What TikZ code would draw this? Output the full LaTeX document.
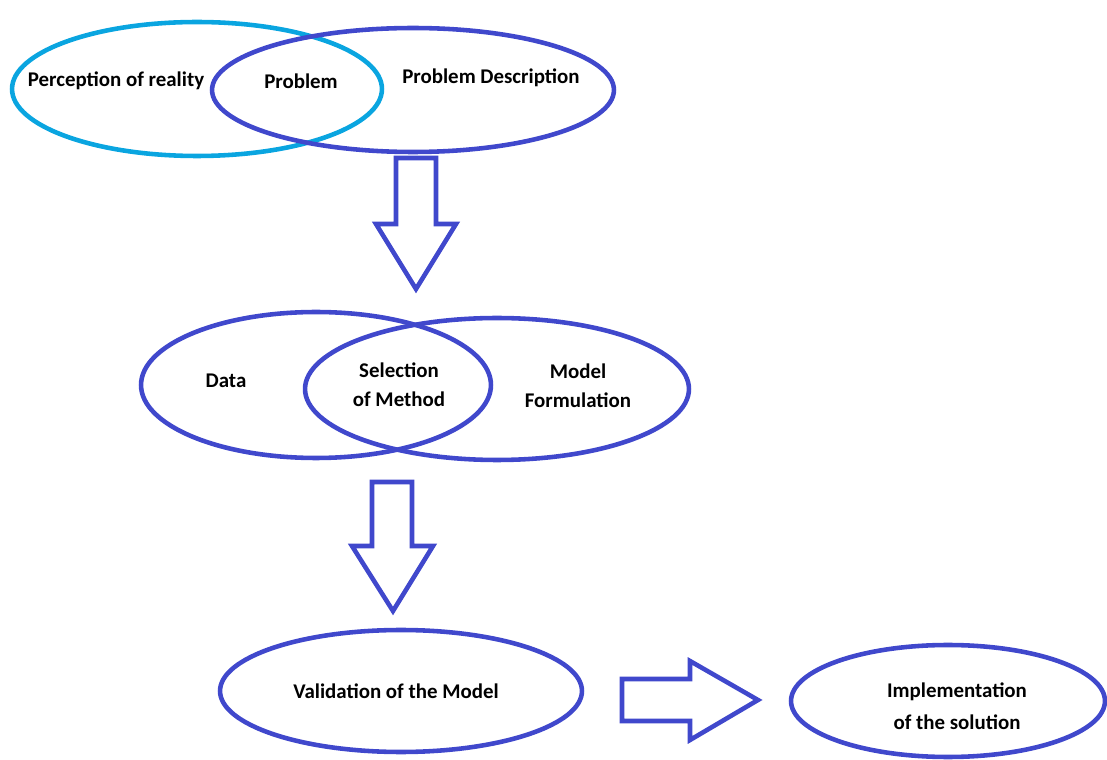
\documentclass[tikz,border=0pt]{standalone}
\usepackage{fontspec}
\setmainfont{Carlito}
\usetikzlibrary{shapes.geometric}
\definecolor{venblue}{RGB}{64,72,204}
\definecolor{vencyan}{RGB}{10,165,224}
\tikzset{
  oval/.style={ellipse, draw=venblue, line width=2.6pt, inner sep=0pt},
  lbl/.style={font=\bfseries\fontsize{11.9}{14.5}\selectfont, text=black, align=center, inner sep=0pt},
  blockarrow/.style={draw=venblue, line width=2.6pt, line join=miter, fill=white},
}
\begin{document}
\begin{tikzpicture}[x=0.02cm, y=-0.02cm]
\useasboundingbox (0,0) rectangle (1107,760);

% top pair of overlapping ovals
\node[oval, draw=vencyan, minimum width=7.4cm, minimum height=2.68cm] (reality) at (197,89) {};
\node[oval, minimum width=8.04cm, minimum height=2.48cm] (descr) at (413,90) {};
\node[lbl] (tReality) at (116,81) {Perception of reality};
\node[lbl] (tProblem) at (301,81) {Problem};
\node[lbl] (tDescr) at (491,78) {Problem Description};

% first downward block arrow
\draw[blockarrow] (396,158) -- (436,158) -- (436,224) -- (456,224) -- (416,289)
  -- (376,224) -- (396,224) -- cycle;

% middle pair of overlapping ovals
\node[oval, minimum width=7.0cm, minimum height=2.92cm] (data) at (316,385) {};
\node[oval, minimum width=7.68cm, minimum height=2.84cm] (model) at (497,389) {};
\node[lbl] (tData) at (226,381) {Data};
\node[lbl] (tSel) at (399,385) {Selection\\[2pt]of Method};
\node[lbl] (tModel) at (578,386) {Model\\[2pt]Formulation};

% second downward block arrow
\draw[blockarrow] (372,482) -- (412,482) -- (412,546) -- (433,546) -- (393,611)
  -- (352,546) -- (372,546) -- cycle;

% bottom row
\node[oval, minimum width=7.24cm, minimum height=2.44cm] (valid) at (401,691) {};
\node[lbl] (tValid) at (396,691) {Validation of the Model};

\draw[blockarrow] (622,679) -- (690,679) -- (690,661) -- (758,700) -- (690,740)
  -- (690,721) -- (622,721) -- cycle;

\node[oval, minimum width=6.28cm, minimum height=2.24cm] (impl) at (948,701) {};
\node[lbl] (tImpl) at (957,706) {Implementation\\[4pt]of the solution};
\end{tikzpicture}
\end{document}
